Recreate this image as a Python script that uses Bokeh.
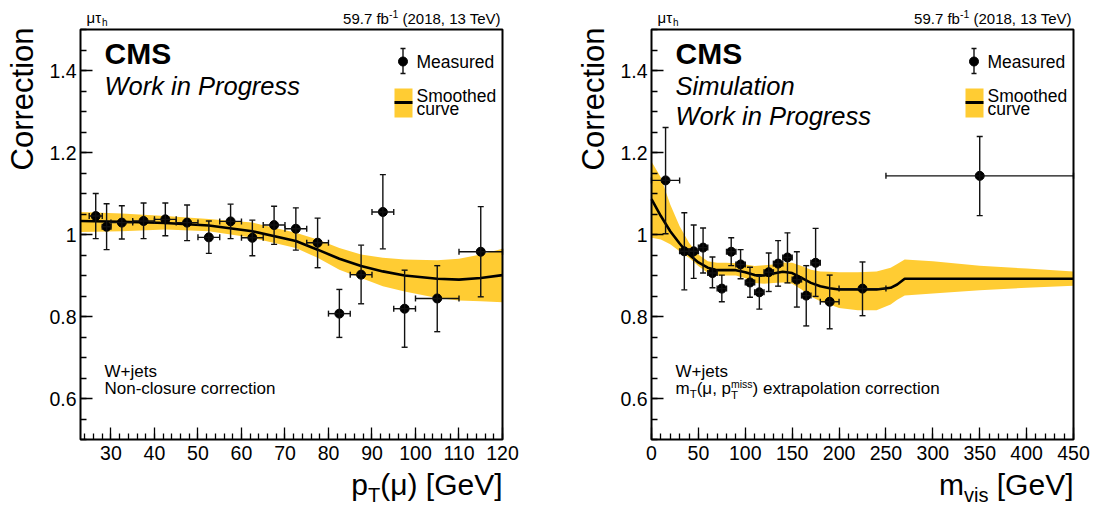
import numpy as np
from bokeh.plotting import figure
from bokeh.layouts import row
from bokeh.models import (Label, Whisker, TeeHead, ColumnDataSource, FixedTicker, Range1d,
                          BoxAnnotation)
from bokeh.embed import file_html
from bokeh.resources import INLINE

# ---------------- data: left panel, pT(mu) ----------------
pt_x   = [26.5, 29, 32.5, 37.5, 42.5, 47.5, 52.5, 57.5, 62.5, 67.5, 72.5, 77.5, 82.5, 87.5, 92.5, 97.5, 105, 115]
pt_xlo = [25, 28, 30, 35, 40, 45, 50, 55, 60, 65, 70, 75, 80, 85, 90, 95, 100, 110]
pt_xhi = [28, 30, 35, 40, 45, 50, 55, 60, 65, 70, 75, 80, 85, 90, 95, 100, 110, 120]
pt_y   = [1.045, 1.019, 1.029, 1.033, 1.037, 1.029, 0.993, 1.032, 0.992, 1.023, 1.014, 0.980, 0.807, 0.902, 1.055, 0.819, 0.844, 0.958]
pt_yhi = [1.100, 1.075, 1.070, 1.077, 1.077, 1.072, 1.033, 1.074, 1.035, 1.069, 1.065, 1.040, 0.866, 0.974, 1.146, 0.913, 0.924, 1.068]
pt_ylo = [0.990, 0.963, 0.989, 0.990, 0.997, 0.985, 0.954, 0.990, 0.948, 0.976, 0.962, 0.919, 0.749, 0.831, 0.965, 0.725, 0.763, 0.848]

pt_curve_x  = [23, 32.5, 42.5, 52.5, 62.5, 72.5, 77.5, 82.5, 87.5, 92.5, 97.5, 105, 110, 115, 120]
pt_curve_y  = [1.033, 1.031, 1.028, 1.022, 1.008, 0.984, 0.963, 0.941, 0.923, 0.910, 0.900, 0.892, 0.890, 0.894, 0.901]
pt_band_hi  = [1.055, 1.051, 1.045, 1.038, 1.029, 1.004, 0.988, 0.967, 0.951, 0.943, 0.939, 0.937, 0.941, 0.951, 0.965]
pt_band_lo  = [1.006, 1.008, 1.012, 1.008, 0.992, 0.967, 0.943, 0.914, 0.894, 0.874, 0.861, 0.845, 0.839, 0.837, 0.835]

# ---------------- data: right panel, m_vis ----------------
mv_x   = [15, 35, 45, 55, 65, 75, 85, 95, 105, 115, 125, 135, 145, 155, 165, 175, 190, 225, 350]
mv_xlo = [0, 30, 40, 50, 60, 70, 80, 90, 100, 110, 120, 130, 140, 150, 160, 170, 180, 200, 250]
mv_xhi = [30, 40, 50, 60, 70, 80, 90, 100, 110, 120, 130, 140, 150, 160, 170, 180, 200, 250, 450]
mv_y   = [1.132, 0.959, 0.959, 0.968, 0.906, 0.868, 0.958, 0.927, 0.883, 0.859, 0.908, 0.929, 0.944, 0.890, 0.851, 0.931, 0.836, 0.868, 1.143]
mv_yhi = [1.261, 1.053, 1.023, 1.016, 0.945, 0.901, 0.992, 0.963, 0.920, 0.898, 0.955, 0.985, 1.004, 0.958, 0.924, 1.015, 0.901, 0.933, 1.239]
mv_ylo = [1.002, 0.865, 0.893, 0.906, 0.870, 0.836, 0.924, 0.892, 0.847, 0.818, 0.861, 0.874, 0.882, 0.823, 0.777, 0.849, 0.770, 0.802, 1.046]

mv_curve_x = [0, 10, 20, 30, 40, 50, 60, 70, 80, 90, 100, 110, 120, 130, 140, 150, 160, 170, 180, 190, 200, 220, 240, 255, 262, 270, 300, 350, 400, 450]
mv_curve_y = [1.086, 1.045, 1.008, 0.978, 0.951, 0.932, 0.919, 0.913, 0.913, 0.913, 0.908, 0.901, 0.900, 0.905, 0.909, 0.906, 0.894, 0.882, 0.874, 0.869, 0.866, 0.866, 0.866, 0.870, 0.878, 0.892, 0.892, 0.892, 0.892, 0.892]
mv_band_hi = [1.178, 1.139, 1.073, 1.020, 0.980, 0.951, 0.935, 0.931, 0.931, 0.930, 0.927, 0.923, 0.925, 0.927, 0.932, 0.931, 0.923, 0.914, 0.910, 0.909, 0.908, 0.908, 0.910, 0.919, 0.928, 0.939, 0.935, 0.924, 0.917, 0.910]
mv_band_lo = [0.992, 0.988, 0.976, 0.959, 0.943, 0.923, 0.906, 0.900, 0.900, 0.900, 0.893, 0.882, 0.880, 0.882, 0.883, 0.880, 0.866, 0.849, 0.837, 0.829, 0.821, 0.815, 0.815, 0.829, 0.841, 0.851, 0.856, 0.864, 0.870, 0.875]

# ---------------- tick labels ----------------
y_major = [0.6, 0.8, 1.0, 1.2, 1.4]
y_labels = {0.6: "0.6", 0.8: "0.8", 1.0: "1", 1.2: "1.2", 1.4: "1.4"}
pt_major = [30, 40, 50, 60, 70, 80, 90, 100, 110, 120]
mv_major = [0, 50, 100, 150, 200, 250, 300, 350, 400, 450]

FONT = "Liberation Sans"
YELLOW = "#FFCC33"
H = 513

# Arial / Liberation Sans advance widths (per 1000 em)
AW = {' ': 278, '(': 333, ')': 333, ',': 278, '-': 333, '.': 278, '+': 584,
      'C': 722, 'G': 778, 'M': 833, 'N': 722, 'P': 667, 'S': 667, 'T': 611, 'V': 667, 'W': 944,
      '[': 278, ']': 278, 'a': 556, 'b': 556, 'c': 500, 'd': 556, 'e': 556, 'f': 278, 'g': 556,
      'h': 556, 'i': 222, 'j': 222, 'k': 500, 'l': 222, 'm': 833, 'n': 556, 'o': 556, 'p': 556,
      'r': 333, 's': 500, 't': 278, 'u': 556, 'v': 500, 'x': 500, '\u03bc': 576, '\u03c4': 450}
for d in "0123456789":
    AW[d] = 556


def tw(s, size):
    return sum(AW.get(c, 556) for c in s) / 1000.0 * size


class Frame:
    """Pixel box (l, r, t, b) of the data area inside a W x H canvas whose
    Bokeh frame fills the whole canvas; axes sit at fixed locations."""
    def __init__(self, W, l, r, t, b, x0, x1, y0, y1):
        self.W, self.l, self.r, self.t, self.b = W, l, r, t, b
        self.x0, self.x1, self.y0, self.y1 = x0, x1, y0, y1
        kx = (x1 - x0) / (r - l)
        ky = (y1 - y0) / (b - t)
        self.xr = (x0 - l * kx, x1 + (W - r) * kx)
        self.yr = (y0 - (H - b) * ky, y1 + t * ky)

    def d(self, X, Y):
        x = self.x0 + (X - self.l) / (self.r - self.l) * (self.x1 - self.x0)
        y = self.y1 - (Y - self.t) / (self.b - self.t) * (self.y1 - self.y0)
        return x, y


def label(p, X, Y, text, size, style="normal", align="left", angle=0.0):
    # (X, Y): canvas pixel position of the text baseline start
    stripped = text.lstrip(" ")
    X = X + tw(text[:len(text) - len(stripped)], size)
    text = stripped
    if angle == 0.0:
        sx, sy = X, H - (Y - 0.35 * size)
    else:
        sx, sy = X - 0.35 * size, H - Y
    p.add_layout(Label(x=sx, y=sy, x_units="screen", y_units="screen", text=text,
                       text_font=FONT, text_font_size=f"{size}px",
                       text_font_style=style, text_align=align, text_baseline="middle",
                       angle=angle, text_color="black"))


def seq(p, X, Y, parts, align="left"):
    # parts: (text, size, dy) or a stacked pair [(sub), (sup)]
    def width(part):
        if isinstance(part, list):
            return max(tw(t, s) for t, s, dy in part)
        t, s, dy = part
        return tw(t, s)
    total = sum(width(pt) for pt in parts)
    x = X - total if align == "right" else X
    for part in parts:
        items = part if isinstance(part, list) else [part]
        for t, s, dy in items:
            label(p, x, Y + dy, t, s)
        x += width(part)


def make_panel(width, left, right, xr, major, minor, xs, xlo, xhi, ys, ylo, yhi,
               cx, cy, blo, bhi, title_parts, sim, note2_parts):
    top, bottom = 29, 439
    fr = Frame(width, left, width - right, top, bottom, xr[0], xr[1], 0.5, 1.5)
    p = figure(width=width, height=H, x_range=Range1d(*fr.xr), y_range=Range1d(*fr.yr),
               output_backend="svg", toolbar_location=None,
               min_border_left=0, min_border_right=0, min_border_top=0, min_border_bottom=0)
    p.title.visible = False
    p.xgrid.visible = False
    p.ygrid.visible = False
    p.outline_line_color = None
    p.background_fill_color = "white"
    p.border_fill_color = "white"

    p.xaxis.fixed_location = 0.5
    p.yaxis.fixed_location = xr[0]
    p.xaxis.bounds = (xr[0], xr[1])
    p.yaxis.bounds = (0.5, 1.5)
    p.xaxis.ticker = FixedTicker(ticks=major, minor_ticks=minor)
    p.yaxis.ticker = FixedTicker(ticks=y_major, minor_ticks=list(np.round(np.arange(0.5, 1.501, 0.05), 3)))
    p.yaxis.major_label_overrides = y_labels
    for ax in (p.xaxis[0], p.yaxis[0]):
        ax.axis_line_color = None
        ax.major_tick_in = 12
        ax.major_tick_out = 0
        ax.minor_tick_in = 6
        ax.minor_tick_out = 0
        ax.major_tick_line_width = 1.3
        ax.minor_tick_line_width = 1.3
        ax.major_tick_line_color = "black"
        ax.minor_tick_line_color = "black"
        ax.major_label_text_font = FONT
        ax.major_label_text_font_size = "19.5px"
        ax.major_label_text_color = "black"
    p.yaxis.major_label_standoff = 4
    p.xaxis.major_label_standoff = 6

    # band + curve
    p.varea(x=cx, y1=blo, y2=bhi, fill_color=YELLOW, fill_alpha=1.0)
    p.line(cx, cy, line_color="black", line_width=2.6)

    # measured points
    src = ColumnDataSource(dict(x=xs, xlo=xlo, xhi=xhi, y=ys, ylo=ylo, yhi=yhi))
    for dim, base, lo, hi in (("height", "x", "ylo", "yhi"), ("width", "y", "xlo", "xhi")):
        w = Whisker(source=src, base=base, lower=lo, upper=hi, dimension=dim,
                    line_color="#111111", line_width=1.4, level="overlay",
                    upper_head=TeeHead(size=6, line_color="#111111", line_width=1.4),
                    lower_head=TeeHead(size=6, line_color="#111111", line_width=1.4))
        p.add_layout(w)
    p.scatter("x", "y", source=src, size=9, color="black")

    # plot box (frame of the data area)
    p.add_layout(BoxAnnotation(left=xr[0], right=xr[1], bottom=0.5, top=1.5,
                               fill_color=None, line_color="black", line_width=2,
                               line_alpha=1.0, level="overlay"))

    L, R = fr.l, fr.r
    # header
    seq(p, L + 6, 22, [("\u03bc\u03c4", 15, 0), ("h", 10, 3)])
    seq(p, R, 23, [("59.7 fb", 15, 0), ("-1", 10.5, -5.5), (" (2018, 13 TeV)", 15, 0)], align="right")
    # CMS block
    label(p, L + 24, 63, "CMS", 30, style="bold")
    if sim:
        label(p, L + 24, 94, "Simulation", 25.5, style="italic")
        label(p, L + 24, 124, "Work in Progress", 25.5, style="italic")
    else:
        label(p, L + 24, 94, "Work in Progress", 25.5, style="italic")

    # legend
    mx, my = fr.d(R - 99.5, 61)
    _, e1 = fr.d(R, 48)
    _, e2 = fr.d(R, 73)
    cl, _ = fr.d(R - 102, 0)
    cr, _ = fr.d(R - 97, 0)
    p.segment(x0=[mx, cl, cl], y0=[e1, e1, e2], x1=[mx, cr, cr], y1=[e2, e1, e2],
              line_color="#111111", line_width=1.4)
    p.scatter([mx], [my], size=9, color="black")
    bl, bt = fr.d(R - 108, 88)
    br, bb = fr.d(R - 90, 117)
    p.quad(left=[bl], right=[br], top=[bt], bottom=[bb], fill_color=YELLOW, line_color=None)
    _, ly = fr.d(R, 102)
    p.segment(x0=[bl], y0=[ly], x1=[br], y1=[ly], line_color="black", line_width=3)
    label(p, R - 86, 68, "Measured", 17.5)
    label(p, R - 86, 102, "Smoothed", 17.5)
    label(p, R - 86, 115, "curve", 17.5)

    # bottom notes
    label(p, L + 24, 377, "W+jets", 17)
    seq(p, L + 24, 394, note2_parts)

    # axis titles
    label(p, L - 47, 27, "Correction", 31, angle=np.pi / 2, align="right")
    seq(p, R, 494, title_parts, align="right")
    return p


p_left = make_panel(550, 80, 48, (23, 120), pt_major, list(range(24, 121, 2)),
                    pt_x, pt_xlo, pt_xhi, pt_y, pt_ylo, pt_yhi,
                    pt_curve_x, pt_curve_y, pt_band_lo, pt_band_hi,
                    [("p", 30, 0), ("T", 20, 7), ("(\u03bc) [GeV]", 30, 0)], False,
                    [("Non-closure correction", 17, 0)])

p_right = make_panel(551, 101, 28, (0, 450), mv_major, list(range(0, 451, 10)),
                     mv_x, mv_xlo, mv_xhi, mv_y, mv_ylo, mv_yhi,
                     mv_curve_x, mv_curve_y, mv_band_lo, mv_band_hi,
                     [("m", 30, 0), ("vis", 20, 7), (" [GeV]", 30, 0)], True,
                     [("m", 17, 0), ("T", 11.5, 4), ("(\u03bc, p", 17, 0),
                      [("T", 11.5, 5), ("miss", 10.5, -7)], (") extrapolation correction", 17, 0)])

layout = row(p_left, p_right)
open("out.html", "w").write(file_html(layout, INLINE))
